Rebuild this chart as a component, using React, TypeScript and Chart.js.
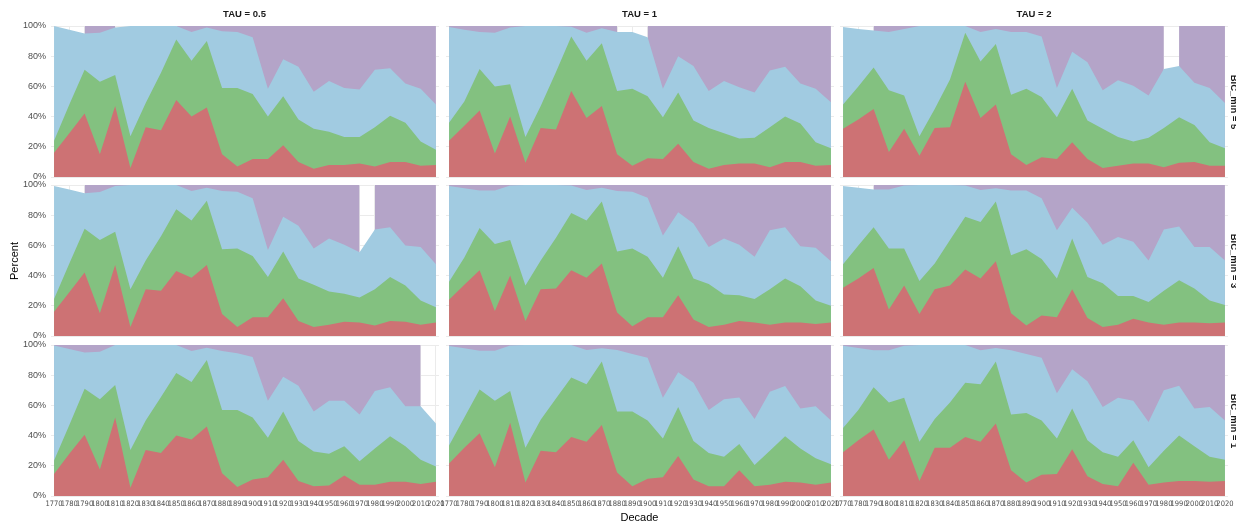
import React, { useEffect, useRef } from 'react';
import { Chart, registerables } from 'chart.js';

Chart.register(...registerables);

// ---------------- data ----------------
const decades = [1770, 1780, 1790, 1800, 1810, 1820, 1830, 1840, 1850, 1860, 1870, 1880, 1890, 1900, 1910, 1920, 1930, 1940, 1950, 1960, 1970, 1980, 1990, 2000, 2010, 2020];
const colTitles = ['TAU = 0.5', 'TAU = 1', 'TAU = 2'];
const rowTitles = ['BIC_min = 5', 'BIC_min = 3', 'BIC_min = 1'];
const yTickValues = [0, 20, 40, 60, 80, 100];

// Upper edge (cumulative percent) of the red, green and blue bands; the purple band fills up to 100%.
// Gaps: decade spans (open intervals) where the purple band is absent.
const r1c1Red = [16, 29, 42, 15, 47, 6, 33, 31, 51, 40, 46, 15, 7, 12, 12, 21, 10, 5.5, 8, 8, 9, 7, 10, 10, 7.5, 8];
const r1c1Green = [24, 48, 71, 63, 67.5, 27, 49, 69, 91, 77, 90, 59, 59, 55, 40, 53.5, 38, 32, 30, 26.5, 26.5, 33, 40.5, 36, 23.5, 18];
const r1c1Blue = [100, 97.5, 95, 95.5, 99, 100, 100, 100, 100, 96, 99, 96.5, 96, 92.5, 58.5, 78, 73, 56.5, 63.5, 59, 58, 71, 72, 62, 58.5, 48];
const r1c1Gaps = [[1760, 1790], [1810, 1850]];

const r1c2Red = [24, 34, 44, 15.5, 40, 9.5, 32.5, 31.5, 57, 39, 47, 15, 7.5, 12.5, 12, 22, 10, 5.5, 8, 9, 9, 6.5, 10, 10, 7.5, 8];
const r1c2Green = [36, 50, 71.5, 60, 61.5, 26.5, 47, 69.5, 93, 77, 88.5, 57, 58.5, 53.5, 39.5, 56, 37.5, 32.5, 29, 25.5, 26, 33, 40, 35.5, 23, 19];
const r1c2Blue = [99.3, 97.5, 96, 95.5, 99, 100, 100, 100, 99.5, 95.5, 98.5, 96, 96, 92.5, 58.5, 80, 73.5, 57, 63.5, 59.5, 56, 70.5, 73, 62, 58.5, 49.5];
const r1c2Gaps = [[1880, 1900]];

const r1c3Red = [32, 38, 45, 16.5, 32, 14, 32.5, 33, 63, 39, 48, 15, 8, 13, 12, 23, 12, 6, 7.5, 9, 9, 6.5, 9.5, 10, 7.5, 7.5];
const r1c3Green = [48, 60, 72.5, 57.5, 54, 27, 45, 64.5, 95.5, 76.5, 88, 54.5, 58.5, 53, 39.5, 58.5, 37.5, 32, 26.5, 23.5, 26, 32.5, 39.5, 34.5, 23, 19];
const r1c3Blue = [99.3, 98, 97, 96, 98, 100, 100, 100, 100, 96, 98, 96, 96, 93, 59, 83, 76, 57.5, 64, 60.5, 54, 71.5, 73.5, 62.5, 59, 49];
const r1c3Gaps = [[1760, 1790], [1980, 1990]];

const r2c1Red = [16, 29, 42, 15, 47, 6, 31, 30, 43, 38.5, 47, 14.5, 6, 12.5, 12.5, 25, 10, 6, 7.5, 9.5, 9, 7, 10, 9.5, 7.5, 9];
const r2c1Green = [24.5, 48, 71, 63.5, 69, 31, 50, 66, 84, 76.5, 89.5, 57.5, 58, 53, 39, 56, 38, 34, 29.5, 28, 25.5, 31, 39, 33.5, 23.5, 19];
const r2c1Blue = [99.3, 97, 94.5, 95.3, 99.3, 100, 100, 100, 100, 96, 98.2, 96, 95.6, 91.2, 57, 79, 73, 58, 64.5, 60.5, 55.5, 70.5, 72, 60, 59, 47.5];
const r2c1Gaps = [[1760, 1790], [1970, 1980]];

const r2c2Red = [24, 34, 43.5, 16.5, 40, 10, 31, 31.5, 43.5, 38.5, 48, 15.5, 6.5, 12.5, 12.5, 27, 11, 6, 7.5, 10, 9, 7.5, 9, 9, 8, 9];
const r2c2Green = [36, 52, 71.5, 61, 63.5, 33.5, 50, 65, 81.5, 76.5, 89, 56, 58, 52.5, 38.5, 59.5, 38, 34.5, 27.5, 27, 24.5, 31, 38, 33, 23.5, 20];
const r2c2Blue = [99.3, 97.8, 96.3, 96.3, 99.6, 100, 100, 100, 99.6, 96.7, 98.2, 96, 95.6, 91.6, 66.5, 82, 74.5, 59, 64.5, 60.5, 52.5, 70, 72, 59.5, 58.5, 49.5];
const r2c2Gaps: number[][] = [];

const r2c3Red = [32, 38, 45, 17.5, 33.5, 14.5, 31, 33.5, 44, 38, 49.5, 15, 7, 13.5, 12.5, 31, 12, 6, 7.5, 11.5, 9, 7.5, 9, 9, 8.5, 9];
const r2c3Green = [47.5, 60, 72, 58, 58, 36.5, 48, 63.5, 79, 75.5, 89, 53.5, 57.5, 51, 38, 64.5, 39, 35, 26.5, 26.5, 22.5, 30, 37, 31.5, 23.5, 20.5];
const r2c3Blue = [99.3, 98.2, 97, 97, 99.6, 100, 100, 100, 99.6, 96.7, 97.8, 96.3, 96.3, 91.2, 70, 85, 75, 60.5, 65.5, 62.5, 50, 70.5, 72.5, 59, 59, 50];
const r2c3Gaps = [[1760, 1790]];

const r3c1Red = [14.5, 28, 40.5, 17.5, 52, 5.5, 30.5, 28.5, 40, 37.5, 46, 15, 6, 11, 12.5, 24, 10, 6.5, 7, 13.5, 7.5, 7.5, 9.5, 9.5, 8, 9.5];
const r3c1Green = [23.5, 47, 71, 64, 73.5, 30.5, 50, 65.5, 81.5, 75.5, 90, 57, 57, 52, 38.5, 56, 36.5, 29.5, 28, 33, 23, 31.5, 39.5, 33, 24, 19.5];
const r3c1Blue = [99.6, 97.3, 95, 95.5, 100, 100, 100, 100, 100, 96, 98.2, 96, 94.5, 92, 63, 79, 73, 56, 63, 63, 54, 69.5, 72, 59.5, 59.5, 48];
const r3c1Gaps = [[2010, 2030]];

const r3c2Red = [21.5, 32, 41.5, 19, 48.5, 9, 30, 29, 39, 36, 47, 15.5, 6.5, 11.5, 12.5, 26.5, 11, 6.5, 6.5, 17, 6.5, 7.5, 9.5, 9, 7.5, 9];
const r3c2Green = [33.5, 52, 70.5, 63, 69.5, 32, 50.5, 64.5, 78.5, 74, 89, 56, 56, 50, 38, 59, 36.5, 28.5, 26, 34.5, 20.5, 30, 39.5, 31.5, 25, 21];
const r3c2Blue = [99.3, 97.8, 96.2, 96.2, 99.6, 100, 100, 100, 100, 96.7, 97.8, 96.7, 94, 91.5, 65, 82, 75, 57, 64, 65.3, 51, 69, 72.8, 58, 59.5, 50];
const r3c2Gaps: number[][] = [];

const r3c3Red = [29, 37, 44, 24, 37, 10, 32, 32, 39, 36, 48, 17, 9, 14, 14.5, 31, 13, 8, 6.5, 22, 7.5, 9, 10, 10, 9.5, 10];
const r3c3Green = [45, 57, 72, 62, 65, 36, 51, 62, 75, 74, 89, 54, 55, 50, 38, 58, 37, 29, 26, 37, 19, 30, 40, 33, 26, 24];
const r3c3Blue = [99.5, 98, 96.5, 96.5, 99.5, 100, 100, 100, 100, 96.5, 98, 96.5, 94, 91.5, 68, 84, 76, 59, 65, 63, 49, 70, 73, 58, 59, 50];
const r3c3Gaps: number[][] = [];

const panelData = [
  [
    { red: r1c1Red, green: r1c1Green, blue: r1c1Blue, gaps: r1c1Gaps },
    { red: r1c2Red, green: r1c2Green, blue: r1c2Blue, gaps: r1c2Gaps },
    { red: r1c3Red, green: r1c3Green, blue: r1c3Blue, gaps: r1c3Gaps },
  ],
  [
    { red: r2c1Red, green: r2c1Green, blue: r2c1Blue, gaps: r2c1Gaps },
    { red: r2c2Red, green: r2c2Green, blue: r2c2Blue, gaps: r2c2Gaps },
    { red: r2c3Red, green: r2c3Green, blue: r2c3Blue, gaps: r2c3Gaps },
  ],
  [
    { red: r3c1Red, green: r3c1Green, blue: r3c1Blue, gaps: r3c1Gaps },
    { red: r3c2Red, green: r3c2Green, blue: r3c2Blue, gaps: r3c2Gaps },
    { red: r3c3Red, green: r3c3Green, blue: r3c3Blue, gaps: r3c3Gaps },
  ],
];

// ---------------- styling / layout ----------------
const RED = 'rgb(205,114,116)';
const GREEN = 'rgb(131,193,128)';
const BLUE = 'rgb(161,203,225)';
const PURPLE = 'rgb(180,164,200)';
const GRID = '#EBEBEB';
const SANS = "'Liberation Sans', Arial, sans-serif";
const NARROW = "'Liberation Sans Narrow', 'DejaVu Sans Condensed', 'Liberation Sans', sans-serif";

const colLeft = [51, 446, 840];
const rowTop = [26, 185, 345];
const AREA_W = 388;
const AREA_H = 151;
const M = 12;
const X_MIN = 1768;
const X_MAX = 2022;

function pts(vals: number[]) {
  return decades.map((d, i) => ({ x: d, y: vals[i] }));
}

function purplePts(gaps: number[][]) {
  const out: { x: number; y: number | null }[] = [];
  decades.forEach((d, i) => {
    const inGap = gaps.some(([a, b]) => d > a && d < b);
    out.push({ x: d, y: inGap ? null : 100 });
    const next = decades[i + 1];
    if (next !== undefined && gaps.some(([a, b]) => a === d && b === next)) {
      out.push({ x: (d + next) / 2, y: null });
    }
  });
  return out;
}

function zeroPad(s: any) {
  s.paddingLeft = 0;
  s.paddingRight = 0;
  s.paddingTop = 0;
  s.paddingBottom = 0;
}

function Panel({ row, col }: { row: number; col: number }) {
  const ref = useRef<HTMLCanvasElement>(null);
  const yW = col === 0 ? 40 : 0;
  const xH = row === 2 ? 16 : 0;
  const left = colLeft[col] - M - yW;
  const top = rowTop[row] - M;
  const width = AREA_W + 2 * M + yW;
  const height = AREA_H + 2 * M + xH;

  useEffect(() => {
    const p = panelData[row][col];
    const ds = (label: string, data: any[], color: string) => ({
      label,
      data,
      backgroundColor: color,
      borderColor: 'rgba(0,0,0,0)',
      borderWidth: 0,
      pointRadius: 0,
      pointHoverRadius: 0,
      fill: 'origin',
      tension: 0,
      spanGaps: false,
    });
    const chart = new Chart(ref.current as HTMLCanvasElement, {
      type: 'line',
      data: {
        datasets: [
          ds('1', pts(p.red), RED),
          ds('2', pts(p.green), GREEN),
          ds('3', pts(p.blue), BLUE),
          ds('4', purplePts(p.gaps), PURPLE),
        ] as any,
      },
      options: {
        responsive: false,
        animation: false,
        devicePixelRatio: 1,
        events: [],
        layout: { padding: M },
        plugins: { legend: { display: false }, tooltip: { enabled: false } },
        scales: {
          x: {
            type: 'linear',
            min: X_MIN,
            max: X_MAX,
            afterBuildTicks: (s: any) => {
              s.ticks = decades.map((v) => ({ value: v }));
            },
            afterFit: (s: any) => {
              s.height = xH;
              zeroPad(s);
            },
            grid: { color: GRID, lineWidth: 1, drawTicks: false },
            border: { display: false },
            ticks: {
              display: row === 2,
              autoSkip: false,
              maxRotation: 0,
              minRotation: 0,
              padding: 4,
              color: '#4D4D4D',
              font: { family: NARROW, size: 7.5 },
              callback: (v: any) => String(v),
            },
          },
          y: {
            type: 'linear',
            min: 0,
            max: 100,
            afterBuildTicks: (s: any) => {
              s.ticks = yTickValues.map((v) => ({ value: v }));
            },
            afterFit: (s: any) => {
              s.width = yW;
              zeroPad(s);
            },
            grid: { color: GRID, lineWidth: 1, drawTicks: false },
            border: { display: false },
            ticks: {
              display: col === 0,
              padding: 5,
              color: '#4D4D4D',
              font: { family: SANS, size: 9 },
              callback: (v: any) => v + '%',
            },
          },
        },
      } as any,
    });
    return () => chart.destroy();
  }, [row, col]);

  return (
    <canvas
      ref={ref}
      width={width}
      height={height}
      style={{ position: 'absolute', left, top, width, height, display: 'block' }}
    />
  );
}

export default function App() {
  const colCenters = [244.5, 639.5, 1034];
  const rowCenters = [101.5, 260.5, 420.5];
  return (
    <div
      style={{
        position: 'fixed',
        left: 0,
        top: 0,
        width: 1236,
        height: 524,
        overflow: 'hidden',
        background: '#fff',
        fontFamily: SANS,
      }}
    >
      {[0, 1, 2].map((r) => [0, 1, 2].map((c) => <Panel key={`${r}-${c}`} row={r} col={c} />))}
      {colTitles.map((t, i) => (
        <div
          key={t}
          style={{
            position: 'absolute',
            left: colCenters[i] - 100,
            width: 200,
            top: 8,
            height: 12,
            lineHeight: '12px',
            fontSize: 9.5,
            fontWeight: 'bold',
            color: '#1A1A1A',
            textAlign: 'center',
          }}
        >
          {t}
        </div>
      ))}
      {rowTitles.map((t, i) => (
        <div
          key={t}
          style={{
            position: 'absolute',
            left: 1234 - 50,
            width: 100,
            top: rowCenters[i] - 6,
            height: 12,
            lineHeight: '12px',
            fontSize: 9.5,
            fontWeight: 'bold',
            color: '#1A1A1A',
            textAlign: 'center',
            transform: 'rotate(90deg)',
            whiteSpace: 'nowrap',
          }}
        >
          {t}
        </div>
      ))}
      <div
        style={{
          position: 'absolute',
          left: 13.5 - 50,
          width: 100,
          top: 261 - 7,
          height: 14,
          lineHeight: '14px',
          fontSize: 11,
          color: '#000',
          textAlign: 'center',
          transform: 'rotate(-90deg)',
        }}
      >
        Percent
      </div>
      <div
        style={{
          position: 'absolute',
          left: 639.5 - 100,
          width: 200,
          top: 517 - 7,
          height: 14,
          lineHeight: '14px',
          fontSize: 11,
          color: '#000',
          textAlign: 'center',
        }}
      >
        Decade
      </div>
    </div>
  );
}
